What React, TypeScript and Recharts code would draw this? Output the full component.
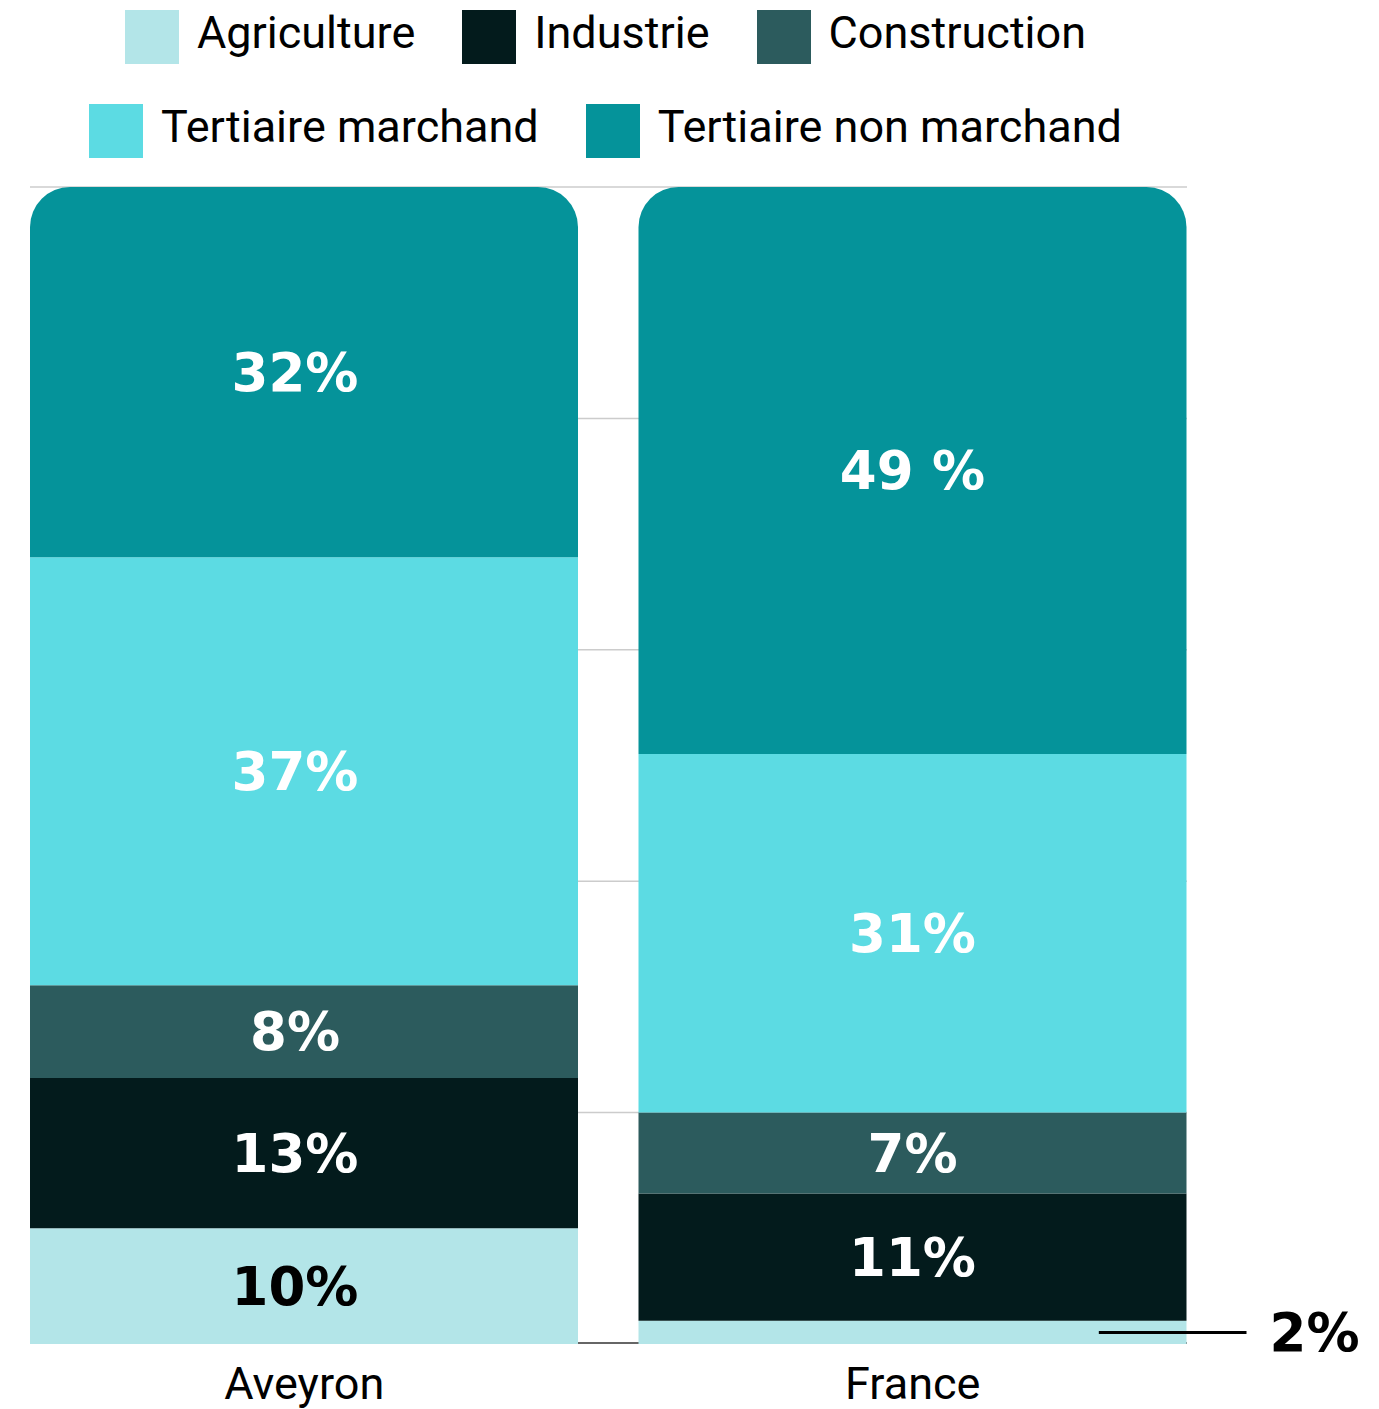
import { BarChart, Bar, XAxis, YAxis, CartesianGrid, LabelList } from "recharts";

const categories = ["Aveyron", "France"];
const agriculture = [10, 2];
const industrie = [13, 11];
const construction = [8, 7];
const tertiaireMarchand = [37, 31];
const tertiaireNonMarchand = [32, 49];
const nonMarchandLabels = ["32%", "49 %"];
const yTicks = [0, 20, 40, 60, 80, 100];

const SERIES = [
  { key: "agriculture", name: "Agriculture", color: "#b3e5e8", text: "#000" },
  { key: "industrie", name: "Industrie", color: "#031b1c", text: "#fff" },
  { key: "construction", name: "Construction", color: "#2c5b5d", text: "#fff" },
  { key: "tertiaireMarchand", name: "Tertiaire marchand", color: "#5cdbe3", text: "#fff" },
  { key: "tertiaireNonMarchand", name: "Tertiaire non marchand", color: "#05939a", text: "#fff" },
];

const data = categories.map((name, i) => ({
  name,
  agriculture: agriculture[i],
  industrie: industrie[i],
  construction: construction[i],
  tertiaireMarchand: tertiaireMarchand[i],
  tertiaireNonMarchand: tertiaireNonMarchand[i],
}));

const LABEL_FONT = "'DejaVu Sans', sans-serif";

function makeLabel(color: string, isTop: boolean) {
  return (props: any) => {
    const { x, y, width, height, value, index } = props;
    const cy = y + height / 2;
    const text = isTop ? nonMarchandLabels[index] : `${value}%`;
    if (value < 4) {
      // too thin: label outside with a leader line
      return (
        <g>
          <line x1={x + width * 0.84} x2={x + width + 60} y1={cy} y2={cy} stroke="#000" strokeWidth={3} />
          <text
            x={x + width + 83}
            y={cy}
            dominantBaseline="central"
            fontFamily={LABEL_FONT}
            fontWeight={700}
            fontSize={53}
            fill="#000"
          >
            {text}
          </text>
        </g>
      );
    }
    return (
      <text
        x={x + width / 2 + (index === 0 ? -9 : 0)}
        y={cy}
        textAnchor="middle"
        dominantBaseline="central"
        fontFamily={LABEL_FONT}
        fontWeight={700}
        fontSize={53}
        fill={color}
      >
        {text}
      </text>
    );
  };
}

// the 0 grid line is drawn darker, like an axis line between the bars
function gridLine(props: any) {
  const { x1, x2, y1, y2, index } = props;
  const isBase = y1 > 1340;
  return (
    <line
      key={`g-${index}`}
      x1={x1}
      x2={x2}
      y1={isBase ? y1 - 1 : y1}
      y2={isBase ? y2 - 1 : y2}
      stroke={isBase ? "#666" : "#cccccc"}
      strokeWidth={isBase ? 2 : 1.5}
    />
  );
}

function LegendItem({ name, color }: { name: string; color: string }) {
  return (
    <div style={{ display: "flex", alignItems: "center", marginRight: 47 }}>
      <div style={{ width: 54, height: 54, background: color, marginRight: 18 }} />
      <span style={{ position: "relative", top: -5, whiteSpace: "nowrap" }}>{name}</span>
    </div>
  );
}

export default function App() {
  const rows = [SERIES.slice(0, 3), SERIES.slice(3)];
  return (
    <div
      style={{
        position: "absolute",
        left: 0,
        top: 0,
        width: 1379,
        height: 1409,
        background: "#fff",
      }}
    >
      <div
        style={{
          position: "absolute",
          left: 26,
          top: 10,
          width: 1206,
          fontFamily: "Roboto, sans-serif",
          fontSize: 45,
          color: "#000",
        }}
      >
        {rows.map((row, r) => (
          <div
            key={r}
            style={{
              display: "flex",
              justifyContent: "center",
              height: 54,
              marginBottom: 40,
            }}
          >
            {row.map((s) => (
              <LegendItem key={s.key} name={s.name} color={s.color} />
            ))}
          </div>
        ))}
      </div>

      <div style={{ position: "absolute", left: 0, top: 0 }}>
        <BarChart
          width={1379}
          height={1409}
          data={data}
          margin={{ top: 187, left: 30, right: 192, bottom: 5 }}
        >
          <CartesianGrid vertical={false} horizontal={gridLine} />
          <YAxis hide domain={[0, 100]} ticks={yTicks} />
          <XAxis
            dataKey="name"
            height={60}
            padding={{ left: -30, right: -30 }}
            tickLine={false}
            tickMargin={17}
            axisLine={false}
            tick={{ fontFamily: "Roboto, sans-serif", fontSize: 45, fill: "#000" }}
          />
          {SERIES.map((s, i) => (
            <Bar
              key={s.key}
              dataKey={s.key}
              name={s.name}
              stackId="a"
              fill={s.color}
              barSize={548}
              radius={i === SERIES.length - 1 ? [40, 40, 0, 0] : 0}
              isAnimationActive={false}
            >
              <LabelList
                dataKey={s.key}
                content={makeLabel(s.text, i === SERIES.length - 1)}
              />
            </Bar>
          ))}
        </BarChart>
      </div>
    </div>
  );
}
